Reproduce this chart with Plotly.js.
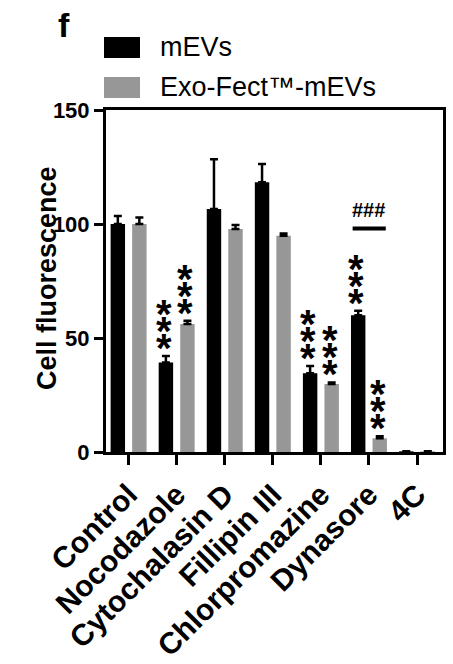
<!DOCTYPE html>
<html>
<head>
<meta charset="utf-8">
<script src="https://cdn.plot.ly/plotly-3.0.1.min.js"></script>
<style>html,body{margin:0;padding:0;background:#fff;}#chart{width:453px;height:664px;}</style>
</head>
<body>
<div id="chart"></div>
<script>
// ---- data ----
var categories = ["Control", "Nocodazole", "Cytochalasin D", "Fillipin III", "Chlorpromazine", "Dynasore", "4C"];
var seriesNames = ["mEVs", "Exo-Fect\u2122-mEVs"];
var mEVsValues = [100, 39.3, 106.6, 118.3, 34.5, 60.0, 0.3];
var mEVsErrors = [3.5, 2.8, 21.8, 8.0, 3.2, 2.0, 0];
var exoValues = [100, 56.1, 97.8, 94.9, 29.8, 6.0, 0.3];
var exoErrors = [2.8, 1.5, 1.8, 0.9, 0.7, 0.9, 0];
var mEVsStars = ["", "***", "", "", "***", "***", ""];
var exoStars = ["", "***", "", "", "***", "***", ""];
var hashLabel = "###";
var hashCategory = "Dynasore";
var hashLevel = 98;
var yTicks = [0, 50, 100, 150];
var yTitle = "Cell fluorescence";
var panelLabel = "f";

// ---- layout constants ----
var W = 453, H = 664;
var M = {l: 106, r: 10, t: 110, b: 212};
var PW = W - M.l - M.r, PH = H - M.t - M.b;
var xRange = [-0.47, 6.54];
var bargap = 0.104, bargroupgap = 0.33;
var slot = (1 - bargap) / 2;
var pxPerCat = PW / (xRange[1] - xRange[0]);
var barOffsetPx = slot / 2 * pxPerCat;
var font = "Arial, 'Liberation Sans', Helvetica, sans-serif";
var black = "#000000", gray = "#979797";

function pxX(x){ return (x - M.l) / PW; }
function pxY(y){ return 1 - (y - M.t) / PH; }

var traces = [
  {type: "bar", name: seriesNames[0], x: categories, y: mEVsValues,
   marker: {color: black, line: {width: 0}},
   error_y: {type: "data", symmetric: false, array: mEVsErrors, arrayminus: mEVsErrors.map(function(){return 0;}),
             color: black, thickness: 2.5, width: 4}},
  {type: "bar", name: seriesNames[1], x: categories, y: exoValues,
   marker: {color: gray, line: {width: 0}},
   error_y: {type: "data", symmetric: false, array: exoErrors, arrayminus: exoErrors.map(function(){return 0;}),
             color: black, thickness: 2.5, width: 4}}
];

var annotations = [];
var shapes = [];

var starSize = 40, starGap = 17, starBase = 8;
function addStars(values, errors, stars, sign){
  for (var i = 0; i < categories.length; i++){
    var s = stars[i];
    if (!s) continue;
    for (var k = 0; k < s.length; k++){
      annotations.push({x: categories[i], y: values[i] + errors[i], xref: "x", yref: "y",
        text: s[k], showarrow: false, xanchor: "center", yanchor: "middle",
        xshift: sign * barOffsetPx - 2, yshift: starBase + starGap * k,
        font: {family: font, size: starSize, color: black, weight: "bold"}});
    }
  }
}
addStars(mEVsValues, mEVsErrors, mEVsStars, -1);
addStars(exoValues, exoErrors, exoStars, 1);

// ### bracket
var hi = categories.indexOf(hashCategory);
shapes.push({type: "line", xref: "x", yref: "y", x0: hi - 0.34, x1: hi + 0.35, y0: hashLevel, y1: hashLevel,
  line: {color: black, width: 4}});
annotations.push({x: hashCategory, y: hashLevel, xref: "x", yref: "y", text: hashLabel, showarrow: false,
  xanchor: "center", yanchor: "bottom", yshift: 6,
  font: {family: font, size: 20, color: black, weight: "bold"}});

// manual legend
var legendColors = [black, gray];
var legendRows = [[37, 58], [77, 98]];
for (var j = 0; j < seriesNames.length; j++){
  shapes.push({type: "rect", xref: "paper", yref: "paper", x0: pxX(104), x1: pxX(140),
    y0: pxY(legendRows[j][1]), y1: pxY(legendRows[j][0]), fillcolor: legendColors[j], line: {width: 0}});
  annotations.push({xref: "paper", yref: "paper", x: pxX(158), y: pxY((legendRows[j][0] + legendRows[j][1]) / 2),
    text: seriesNames[j], showarrow: false, xanchor: "left", yanchor: "middle",
    font: {family: font, size: 27, color: black}});
}

// panel label
annotations.push({xref: "paper", yref: "paper", x: pxX(56), y: pxY(4), text: panelLabel, showarrow: false,
  xanchor: "left", yanchor: "top", font: {family: font, size: 34, color: black, weight: "bold"}});

// y-axis title (placed as rotated text beside the tick labels)
annotations.push({xref: "paper", yref: "paper", x: pxX(47), y: pxY(278), text: yTitle, showarrow: false,
  textangle: -90, xanchor: "center", yanchor: "middle",
  font: {family: font, size: 27, color: black, weight: "bold"}});

var layout = {
  width: W, height: H, margin: M, paper_bgcolor: "#fff", plot_bgcolor: "#fff",
  showlegend: false, barmode: "group", bargap: bargap, bargroupgap: bargroupgap,
  font: {family: font, color: black},
  xaxis: {type: "category", range: xRange, showline: true, linecolor: black, linewidth: 3, mirror: true,
    ticks: "outside", ticklen: 10, tickwidth: 3, tickcolor: black, tickangle: -45, showgrid: false, zeroline: false,
    tickfont: {family: font, size: 30, color: black, weight: "bold"}, automargin: false},
  yaxis: {range: [0, 150], tickvals: yTicks, showline: true, linecolor: black, linewidth: 3, mirror: true,
    ticks: "outside", ticklen: 9, tickwidth: 3, tickcolor: black, showgrid: false, zeroline: false,
    tickfont: {family: font, size: 22, color: black, weight: "bold"}, automargin: false},
  annotations: annotations, shapes: shapes
};

Plotly.newPlot("chart", traces, layout, {displayModeBar: false, staticPlot: true});
</script>
</body>
</html>
